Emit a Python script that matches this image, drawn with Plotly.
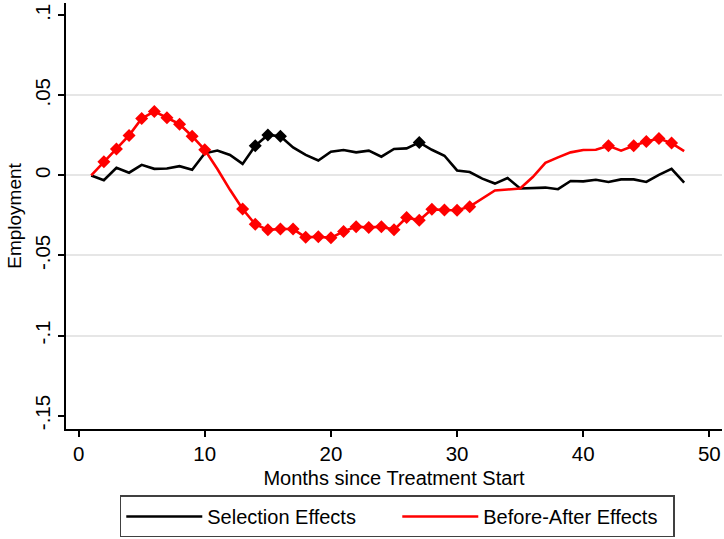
import plotly.graph_objects as go

# Months since treatment start
months = list(range(1, 49))

# Estimated employment effects by month
selection = [0.0, -0.003, 0.0048, 0.0017, 0.0066, 0.0041, 0.0043, 0.0058, 0.0035, 0.0138,
             0.0155, 0.0128, 0.0072, 0.0185, 0.0253, 0.0245, 0.0175, 0.0128, 0.0093, 0.0148,
             0.0159, 0.0144, 0.0155, 0.0117, 0.0165, 0.0169, 0.0206, 0.016, 0.0123, 0.0031,
             0.0021, -0.002, -0.0051, -0.0016, -0.0082, -0.0078, -0.0076, -0.0086, -0.0035, -0.0037,
             -0.0027, -0.0041, -0.0025, -0.0025, -0.0041, 0.0004, 0.0041, -0.0045]

before_after = [0.0, 0.0085, 0.0165, 0.025, 0.0355, 0.040, 0.036, 0.032, 0.0245, 0.016,
                0.004, -0.009, -0.021, -0.0305, -0.034, -0.0335, -0.0335, -0.0387, -0.0383, -0.039,
                -0.035, -0.032, -0.0325, -0.032, -0.034, -0.0263, -0.028, -0.0212, -0.0216, -0.0218,
                -0.0195, -0.0144, -0.0094, -0.0088, -0.0082, -0.001, 0.0078, 0.0113, 0.0144, 0.0159,
                0.016, 0.0185, 0.0155, 0.0185, 0.0212, 0.023, 0.0202, 0.0152]

# Months with statistically significant estimates (drawn with markers)
selection_sig = [14, 15, 16, 27]
before_after_sig = list(range(2, 11)) + list(range(13, 32)) + [42, 44, 45, 46, 47]

y_tickvals = [0.1, 0.05, 0.0, -0.05, -0.1, -0.15]
y_ticktext = [".1", ".05", "0", "-.05", "-.1", "-.15"]
y_gridvals = [0.05, 0.0, -0.05, -0.1]
x_tickvals = [0, 10, 20, 30, 40, 50]

FONT = "Liberation Sans, Arial, sans-serif"
RED = "#ff0000"
BLACK = "#000000"
LW = 2.6

fig = go.Figure()

fig.add_trace(go.Scatter(x=months, y=selection, mode="lines", name="Selection Effects",
                         line=dict(color=BLACK, width=LW)))
fig.add_trace(go.Scatter(x=months, y=before_after, mode="lines", name="Before-After Effects",
                         line=dict(color=RED, width=LW)))
fig.add_trace(go.Scatter(x=selection_sig, y=[selection[m - 1] for m in selection_sig],
                         mode="markers", showlegend=False,
                         marker=dict(symbol="diamond", size=10, color=BLACK)))
fig.add_trace(go.Scatter(x=before_after_sig, y=[before_after[m - 1] for m in before_after_sig],
                         mode="markers", showlegend=False,
                         marker=dict(symbol="diamond", size=10, color=RED)))

fig.update_layout(
    width=724, height=539,
    margin=dict(l=66, r=2, t=3, b=106),
    plot_bgcolor="white", paper_bgcolor="white",
    font=dict(family=FONT, size=20, color="black"),
    xaxis=dict(range=[-1, 51], tickvals=x_tickvals, showgrid=False, zeroline=False,
               showline=True, linecolor="black", linewidth=1.5,
               ticks="outside", ticklen=6, tickwidth=1.5, tickcolor="black",
               tickfont=dict(size=20.5),
               title=dict(text="Months since Treatment Start", font=dict(size=20), standoff=7)),
    yaxis=dict(range=[-0.1584, 0.1077], tickvals=y_tickvals, ticktext=y_ticktext,
               tickangle=-90, showgrid=False, zeroline=False,
               showline=True, linecolor="black", linewidth=1.5,
               ticks="outside", ticklen=6, tickwidth=1.5, tickcolor="black",
               tickfont=dict(size=20.5),
               title=dict(text="Employment", font=dict(size=19), standoff=4)),
    yaxis2=dict(range=[-0.1584, 0.1077], overlaying="y", tickvals=y_gridvals,
                showticklabels=False, ticks="", showline=False, zeroline=False,
                showgrid=True, gridcolor="#e6e6e6", gridwidth=1.5),
    legend=dict(orientation="h", x=0.505, xanchor="center", y=-0.156, yanchor="top",
                bordercolor="#404040", borderwidth=1.5, bgcolor="white",
                itemwidth=76, entrywidth=185, font=dict(size=20), tracegroupgap=0),
)

# Invisible trace to activate the grid axis
fig.add_trace(go.Scatter(x=[None], y=[None], yaxis="y2", showlegend=False, hoverinfo="skip"))

fig.write_html("out.html")
